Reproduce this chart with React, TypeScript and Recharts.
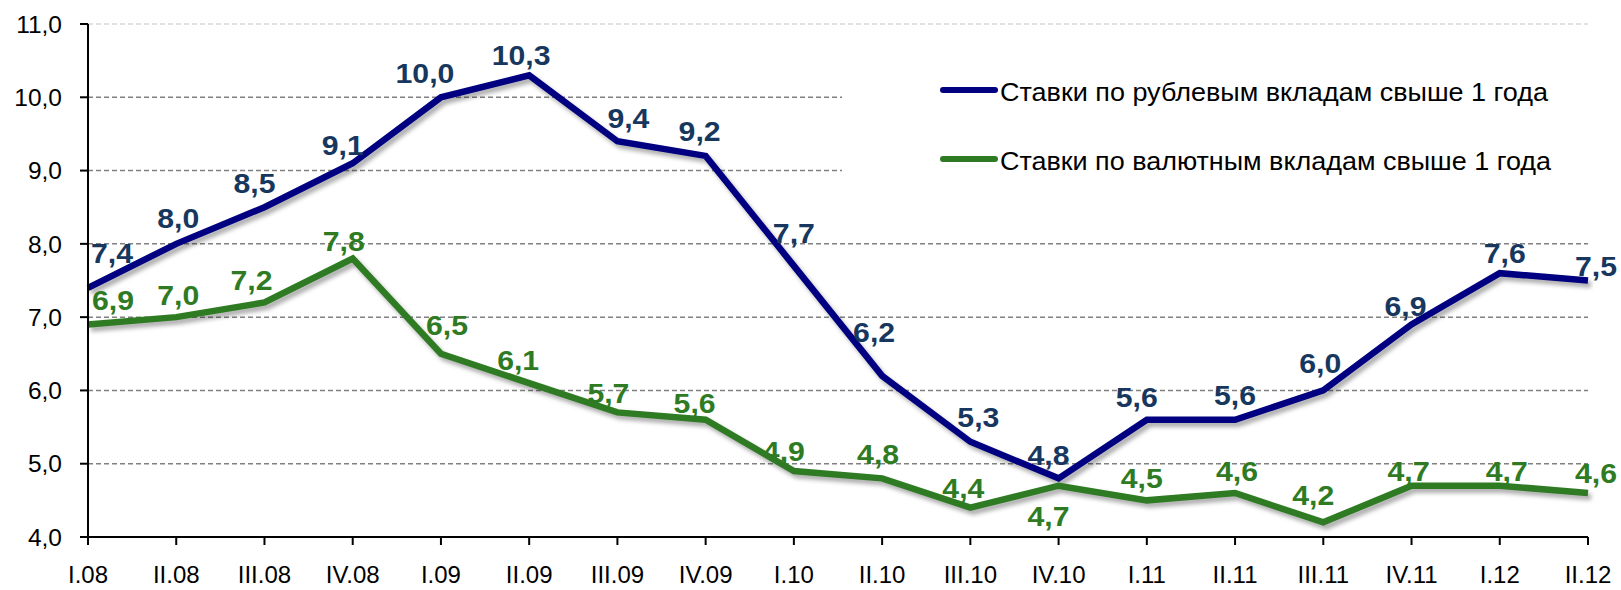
import React from 'react'
import { LineChart, Line, XAxis, YAxis, CartesianGrid, Legend, LabelList } from 'recharts'

const quarters = ['I.08', 'II.08', 'III.08', 'IV.08', 'I.09', 'II.09', 'III.09', 'IV.09', 'I.10', 'II.10', 'III.10', 'IV.10', 'I.11', 'II.11', 'III.11', 'IV.11', 'I.12', 'II.12']
const rubDeposits = [7.4, 8.0, 8.5, 9.1, 10.0, 10.3, 9.4, 9.2, 7.7, 6.2, 5.3, 4.8, 5.6, 5.6, 6.0, 6.9, 7.6, 7.5]
const fxDeposits = [6.9, 7.0, 7.2, 7.8, 6.5, 6.1, 5.7, 5.6, 4.9, 4.8, 4.4, 4.7, 4.5, 4.6, 4.2, 4.7, 4.7, 4.6]
const yTicks = [4, 5, 6, 7, 8, 9, 10, 11]

const RUB_NAME = 'Ставки по рублевым вкладам свыше 1 года'
const FX_NAME = 'Ставки по валютным вкладам свыше 1 года'

const data = quarters.map((q, i) => ({ q, rub: rubDeposits[i], fx: fxDeposits[i] }))

const FONT = '"Liberation Sans", Arial, sans-serif'
const fmt = (v: number) => v.toFixed(1).replace('.', ',')

// label nudges [dx, dy of baseline from point]
const rubNudge: Record<number, [number, number]> = {
  0: [24, -25], 1: [2, -16], 2: [-10, -14], 3: [-10, -8], 4: [-16, -14], 5: [-8, -10], 6: [11, -13], 7: [-6, -15],
  8: [0, -23], 9: [-8, -34], 10: [8, -15], 11: [-10, -13], 12: [-10, -13], 13: [0, -15], 14: [-3, -17], 15: [-6, -8],
  16: [5, -10], 17: [8, -5],
}
const fxNudge: Record<number, [number, number]> = {
  0: [25, -14], 1: [2, -12], 2: [-13, -12], 3: [-9, -8], 4: [6, -19], 5: [-11, -13], 6: [-9, -9], 7: [-11, -7],
  8: [-10, -10], 9: [-4, -14], 10: [-7, -10], 11: [-10, 40], 12: [-5, -12], 13: [2, -12], 14: [-10, -17], 15: [-3, -5],
  16: [7, -5], 17: [8, -10],
}

const LABEL_SIZE = 27
const makeLabel = (color: string, nudge: Record<number, [number, number]>) => (props: any) => {
  const { x, y, value, index } = props
  const [dx, dy] = nudge[index] ?? [0, -13]
  const s = fmt(value)
  const w = ((s.length - 1) * 0.556 + 0.278) * LABEL_SIZE * 1.12
  return (
    <text x={x + dx} y={y + dy} textAnchor="middle" fill={color} fontSize={LABEL_SIZE} fontWeight="bold" fontFamily={FONT}
      textLength={w} lengthAdjust="spacingAndGlyphs">
      {s}
    </text>
  )
}

const renderLegend = () => (
  <svg width={760} height={150}>
    <line x1={101} x2={153} y1={50} y2={50} stroke="#000080" strokeWidth={6} strokeLinecap="round" />
    <text x={158} y={61} fontSize={25} fontFamily={FONT} fill="#000" textLength={548} lengthAdjust="spacingAndGlyphs">{RUB_NAME}</text>
    <line x1={101} x2={153} y1={119} y2={119} stroke="#2E7B23" strokeWidth={6} strokeLinecap="round" />
    <text x={158} y={130} fontSize={25} fontFamily={FONT} fill="#000" textLength={551} lengthAdjust="spacingAndGlyphs">{FX_NAME}</text>
  </svg>
)

const gridLine = (props: any) => {
  const { x1, x2, y1, y2, index } = props
  const top = y1 < 30
  return (
    <line key={`h-${index}`} x1={x1} x2={x2} y1={y1} y2={y2}
      stroke={top ? '#d9d9d9' : '#808080'} strokeWidth={1.5} strokeDasharray="5 3" />
  )
}

export default function App() {
  return (
    <div style={{ position: 'absolute', left: 0, top: 0, background: '#fff' }}>
      <style>{`.recharts-line-curve { filter: drop-shadow(3px 4px 2px rgba(0,0,0,0.32)); }`}</style>
      <LineChart width={1621} height={590} data={data} margin={{ top: 24, right: 33, left: 0, bottom: 0 }}>
        <CartesianGrid vertical={false} horizontal={gridLine} />
        <XAxis dataKey="q" height={53} tickSize={8} tickMargin={21} interval={0}
          axisLine={{ stroke: '#000', strokeWidth: 2 }} tickLine={{ stroke: '#000', strokeWidth: 2 }}
          tick={{ fill: '#000', fontSize: 24, fontFamily: FONT }} />
        <YAxis type="number" domain={[4, 11]} ticks={yTicks} width={88} tickSize={8} tickMargin={18}
          tickFormatter={fmt} axisLine={{ stroke: '#000', strokeWidth: 2 }} tickLine={{ stroke: '#000', strokeWidth: 2 }}
          tick={{ fill: '#000', fontSize: 24.5, fontFamily: FONT }} />
        <Legend layout="horizontal" verticalAlign="middle" align="center" content={renderLegend}
          wrapperStyle={{ position: 'absolute', left: 842, top: 40, width: 760, height: 150, background: '#fff' }} />
        <Line type="linear" dataKey="rub" name={RUB_NAME} stroke="#000080" strokeWidth={6.5} dot={false} activeDot={false}
          isAnimationActive={false}>
          <LabelList dataKey="rub" content={makeLabel('#17375E', rubNudge)} />
        </Line>
        <Line type="linear" dataKey="fx" name={FX_NAME} stroke="#2E7B23" strokeWidth={6.5} dot={false} activeDot={false}
          isAnimationActive={false}>
          <LabelList dataKey="fx" content={makeLabel('#2E7B23', fxNudge)} />
        </Line>
      </LineChart>
    </div>
  )
}
